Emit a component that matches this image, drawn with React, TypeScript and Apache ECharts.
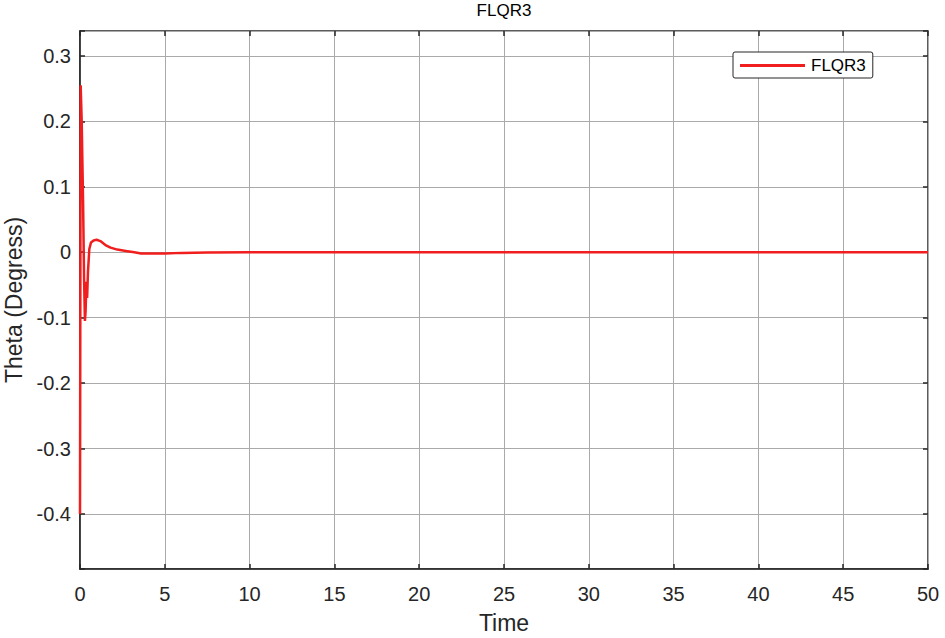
import React, { useEffect, useRef } from "react";
import * as echarts from "echarts";

const chartTitle = "FLQR3";
const seriesName = "FLQR3";
const xAxisName = "Time";
const yAxisName = "Theta (Degress)";
const timeData = [0, 0.04, 0.1, 0.18, 0.24, 0.29, 0.33, 0.38, 0.42, 0.47, 0.55, 0.65, 0.8, 0.98, 1.2, 1.5, 1.8, 2.2, 2.7, 3.2, 3.6, 4.2, 5.0, 6.0, 7.5, 10, 20, 30, 40, 50];
const thetaData = [-0.4, 0.255, 0.2, 0.08, -0.04, -0.105, -0.09, -0.045, -0.07, -0.03, 0.005, 0.015, 0.018, 0.019, 0.017, 0.011, 0.007, 0.004, 0.002, 0.0, -0.002, -0.002, -0.002, -0.001, -0.0005, 0, 0, 0, 0, 0];
const xMin = 0;
const xMax = 50;
const xStep = 5;
const yMin = -0.484;
const yMax = 0.338;

const FONT = "Liberation Sans, Arial, Helvetica, sans-serif";
const INK = "#262626";
const GRID = "#aaaaaa";
const RED = "#f01e1e";

function yFmt(v: number) {
  const r = Math.round(v * 10) / 10;
  if (Math.abs(v - r) > 1e-6) return "";
  if (Math.abs(r) < 1e-9) return "0";
  return String(r);
}

export default function App() {
  const ref = useRef<HTMLDivElement>(null);
  useEffect(() => {
    if (!ref.current) return;
    const chart = echarts.init(ref.current, undefined, { renderer: "svg" });
    const data = timeData.map((t, i) => [t, thetaData[i]]);
    const tick = { show: true, inside: true, length: 5, lineStyle: { color: INK, width: 1.5 } };
    chart.setOption({
      animation: false,
      backgroundColor: "#ffffff",
      title: {
        text: chartTitle,
        left: 504,
        top: 0,
        padding: [2, 0],
        textAlign: "center",
        textStyle: { fontFamily: FONT, fontSize: 17, fontWeight: "normal", color: "#000" },
      },
      legend: {
        data: [{ name: seriesName, icon: "rect" }],
        left: 733,
        top: 52,
        padding: [5, 7, 4, 7],
        itemWidth: 65,
        itemHeight: 3,
        itemGap: 5,
        borderColor: INK,
        borderWidth: 1,
        backgroundColor: "#fff",
        borderRadius: 2,
        textStyle: { fontFamily: FONT, fontSize: 17, color: "#000", padding: [0, 0, 0, 1] },
      },
      grid: {
        left: 80,
        right: 17,
        top: 31,
        bottom: 69,
        outerBoundsMode: "none",
        containLabel: false,
        show: true,
        borderColor: INK,
        borderWidth: 1.5,
        backgroundColor: "#fff",
      },
      xAxis: [
        {
          type: "value",
          min: xMin,
          max: xMax,
          interval: xStep,
          name: xAxisName,
          nameLocation: "middle",
          nameGap: 42,
          nameTextStyle: { fontFamily: FONT, fontSize: 23, color: INK },
          axisLine: { show: true, onZero: false, lineStyle: { color: INK, width: 1.5 } },
          axisTick: tick,
          axisLabel: { fontFamily: FONT, fontSize: 20, color: INK, margin: 15 },
          splitLine: { show: true, lineStyle: { color: GRID, width: 1 } },
        },
        {
          type: "value",
          position: "top",
          min: xMin,
          max: xMax,
          interval: xStep,
          axisLine: { show: false, onZero: false },
          axisTick: tick,
          axisLabel: { show: false },
          splitLine: { show: false },
        },
      ],
      yAxis: [
        {
          type: "value",
          min: yMin,
          max: yMax,
          splitNumber: 8,
          name: yAxisName,
          nameLocation: "middle",
          nameGap: 53,
          nameTextStyle: { fontFamily: FONT, fontSize: 23, color: INK },
          axisLine: { show: true, onZero: false, lineStyle: { color: INK, width: 1.5 } },
          axisTick: tick,
          axisLabel: { fontFamily: FONT, fontSize: 20, color: INK, margin: 9, formatter: yFmt },
          splitLine: { show: true, lineStyle: { color: GRID, width: 1 } },
        },
        {
          type: "value",
          position: "right",
          min: yMin,
          max: yMax,
          splitNumber: 8,
          axisLine: { show: false, onZero: false },
          axisTick: tick,
          axisLabel: { show: false },
          splitLine: { show: false },
        },
      ],
      series: [
        {
          name: seriesName,
          type: "line",
          data,
          symbol: "none",
          lineStyle: { color: RED, width: 2.5 },
          itemStyle: { color: RED },
          xAxisIndex: 0,
          yAxisIndex: 0,
        },
      ],
    });
    return () => chart.dispose();
  }, []);
  return (
    <div
      ref={ref}
      style={{ position: "fixed", left: 0, top: 0, width: 945, height: 638, background: "#fff" }}
    />
  );
}
